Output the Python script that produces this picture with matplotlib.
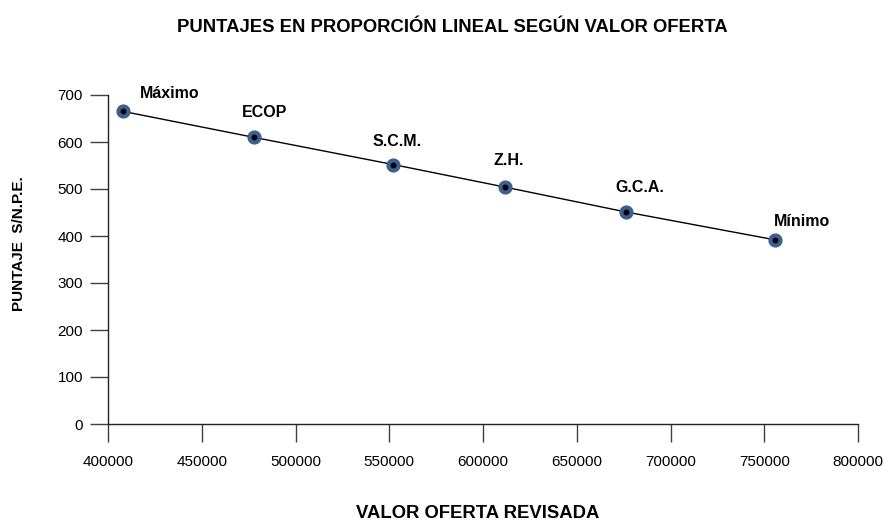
import matplotlib
matplotlib.use("Agg")
import matplotlib.pyplot as plt

# ---- data ----
labels = ["Máximo", "ECOP", "S.C.M.", "Z.H.", "G.C.A.", "Mínimo"]
valor_oferta = [408200, 477700, 552200, 611800, 676400, 755500]
puntaje = [665, 610, 552, 504, 451, 392]
x_ticks = [400000, 450000, 500000, 550000, 600000, 650000, 700000, 750000, 800000]
y_ticks = [0, 100, 200, 300, 400, 500, 600, 700]

title = "PUNTAJES EN PROPORCIÓN LINEAL SEGÚN VALOR OFERTA"
x_title = "VALOR OFERTA REVISADA"
y_title = "PUNTAJE  S/N.P.E."

# label offsets in points (style): (dx of text centre, baseline above point)
label_offsets = [(33, 9.4), (8, 14.4), (3, 13.7), (2.5, 16), (9.7, 14.4), (20, 10)]

FONT = "Liberation Sans"
W, H = 888, 520
fig = plt.figure(figsize=(W / 100, H / 100), dpi=100)
left, right, bottom, top = 108, 858, 424, 95
ax = fig.add_axes([left / W, 1 - bottom / H, (right - left) / W, (bottom - top) / H])

ax.plot(valor_oferta, puntaje, color="black", lw=1.0, zorder=2)
ax.plot(valor_oferta, puntaje, "o", ms=9.2, color="#3b5f8e", mec="#3b5f8e", zorder=3)
ax.plot(valor_oferta, puntaje, "o", ms=3.2, color="black", zorder=4)

for lab, xv, yv, off in zip(labels, valor_oferta, puntaje, label_offsets):
    ax.annotate(lab, (xv, yv), xytext=off, textcoords="offset points",
                ha="center", va="baseline", fontsize=11.5, fontweight="bold",
                family=FONT, color="black")

ax.set_xlim(400000, 800000)
ax.set_ylim(0, 700)
ax.set_xticks(x_ticks)
ax.set_yticks(y_ticks)
ax.set_xticklabels([str(v) for v in x_ticks], family=FONT, fontsize=11)
ax.set_yticklabels([str(v) for v in y_ticks], family=FONT, fontsize=11)
ax.tick_params(axis="x", direction="out", length=13, width=1, color="#404040", pad=9.5)
ax.tick_params(axis="y", direction="out", length=13, width=1, color="#404040", pad=5)
for s in ("top", "right"):
    ax.spines[s].set_visible(False)
for s in ("left", "bottom"):
    ax.spines[s].set_color("#222222")
    ax.spines[s].set_linewidth(1.0)

fig.text(452 / W, 1 - 27 / H, title, ha="center", va="center", fontsize=13.3,
         fontweight="bold", family=FONT)
fig.text(478 / W, 1 - 513 / H, x_title, ha="center", va="center", fontsize=13.3,
         fontweight="bold", family=FONT)
fig.text(19 / W, 1 - 243.5 / H, y_title, ha="center", va="center", fontsize=11,
         fontweight="bold", family=FONT, rotation=90)

fig.savefig("out.png", dpi=100)
